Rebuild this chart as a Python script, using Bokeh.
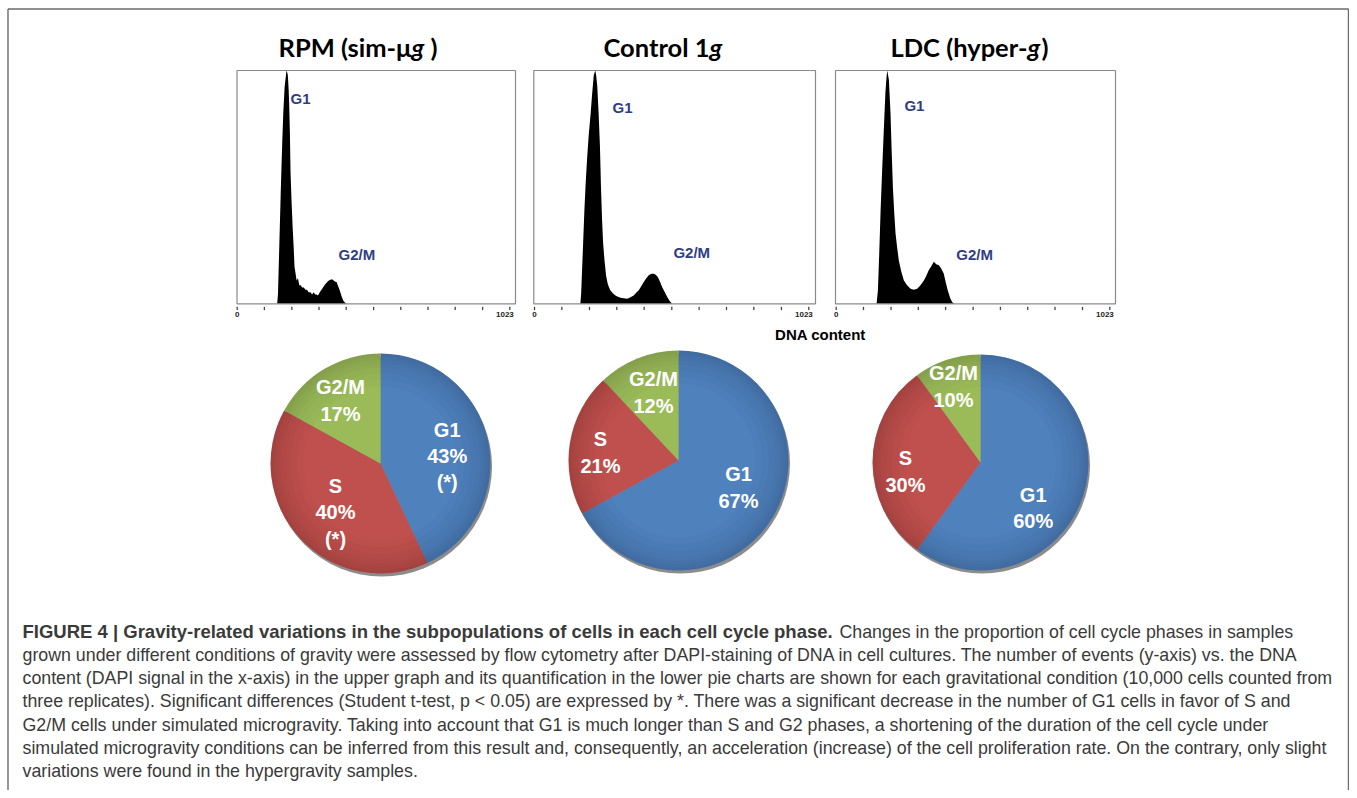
import math
from bokeh.plotting import figure
from bokeh.models import Range1d
from bokeh.core.properties import value
from bokeh.embed import file_html
from bokeh.resources import INLINE

# ---------------- data ----------------
phases = ["G1", "S", "G2/M"]
rpm_pct = [43, 40, 17]
ctl_pct = [67, 21, 12]
ldc_pct = [60, 30, 10]
rpm_sig = [True, True, False]
ctl_sig = [False, False, False]
ldc_sig = [False, False, False]

# DNA content histograms: channel (0-1023) vs events (% of G1 peak)
rpm_ch = [150, 153, 158, 163, 166, 169, 173, 178, 182, 185, 188, 190, 193, 195, 198, 200, 204, 208,
          212, 215, 219, 223, 228, 233, 238, 244, 250, 256, 262, 268, 275, 281, 287, 293, 298, 303,
          308, 313, 319, 325, 331, 338, 344, 350, 356, 362, 368, 373, 379, 385, 391, 398, 404, 410]
rpm_cnt = [0, 4, 25, 46, 58, 69, 82, 93, 97, 100, 99, 98, 92, 86, 72, 57, 44, 33,
           24, 16, 13, 10, 11, 8, 8, 7, 7, 6, 6, 5, 5, 4, 5, 4, 4, 3.6,
           4.5, 5.5, 6.4, 7.5, 8.5, 9.3, 10, 10.3, 10.5, 10, 9.5, 9.3, 7.5, 5.7, 3.5, 1.4, 0.6, 0]

ctl_ch = [171, 174, 180, 186, 191, 196, 202, 209, 215, 221, 224, 227, 230, 234, 239, 244, 248, 252,
          256, 261, 267, 273, 278, 283, 292, 302, 311, 321, 333, 346, 358, 370, 380, 389, 398, 408,
          417, 426, 436, 445, 452, 460, 468, 476, 486, 495, 504, 513]
ctl_cnt = [0, 4.3, 22, 40, 52, 62, 72, 81, 90, 98, 99, 100, 98, 93.5, 82, 68, 50, 36,
           26, 18.7, 12, 8.6, 7, 5.8, 4.5, 3.6, 3, 2.6, 2.4, 2.2, 2.8, 3.6, 4.8, 5.8, 7.5, 9.4,
           11, 12.2, 12.9, 12.9, 12.5, 11.5, 9.5, 7.2, 5, 2.9, 1.2, 0]

ldc_ch = [151, 156, 161, 166, 171, 176, 180, 184, 188, 191, 194, 197, 200, 203, 207, 212, 217, 222,
          228, 234, 243, 253, 265, 278, 290, 303, 315, 328, 337, 346, 355, 365, 374, 384, 393, 402,
          410, 417, 426, 434, 442]
ldc_cnt = [0, 5.8, 22, 40, 55, 69, 80, 90.6, 97, 100, 98, 96, 89, 82, 67, 50, 39, 30,
           24, 18.7, 14, 10, 8, 6.5, 6, 6.5, 8, 10, 12, 14.4, 16, 18, 17, 16.5, 15, 13,
           9, 5.8, 2.5, 0.7, 0]

tick_channels = [0, 102, 205, 307, 409, 512, 614, 716, 818, 921, 1023]
tick_label_channels = [0, 1023]
tick_label_texts = ["0", "1023"]
axis_label = "DNA content"

caption_bold = "FIGURE 4 | Gravity-related variations in the subpopulations of cells in each cell cycle phase."
caption_lines = [
    "Changes in the proportion of cell cycle phases in samples",
    "grown under different conditions of gravity were assessed by flow cytometry after DAPI-staining of DNA in cell cultures. The number of events (y-axis) vs. the DNA",
    "content (DAPI signal in the x-axis) in the upper graph and its quantification in the lower pie charts are shown for each gravitational condition (10,000 cells counted from",
    "three replicates). Significant differences (Student t-test, p < 0.05) are expressed by *. There was a significant decrease in the number of G1 cells in favor of S and",
    "G2/M cells under simulated microgravity. Taking into account that G1 is much longer than S and G2 phases, a shortening of the duration of the cell cycle under",
    "simulated microgravity conditions can be inferred from this result and, consequently, an acceleration (increase) of the cell proliferation rate. On the contrary, only slight",
    "variations were found in the hypergravity samples.",
]

# title pieces: (text, italic)
titles = [
    [("RPM (sim-μ", False), ("g", True), (")", False)],
    [("Control 1", False), ("g", True)],
    [("LDC (hyper-", False), ("g", True), (")", False)],
]

# ---------------- layout (page pixels) ----------------
W, H = 1349, 790
def py(y):
    return H - y

panels = [
    dict(L=236.5, R=515, T=70, B=303.3, x0=236.7, x1=509.3,
         g1=(200, 88), g2=(380, 21), title_x=[411, 411, 430]),
    dict(L=533.3, R=815, T=70, B=303.3, x0=534.0, x1=808.3,
         g1=(291, 84), g2=(518, 22), title_x=[709, 709]),
    dict(L=835.0, R=1115, T=70, B=303.3, x0=835.7, x1=1109.3,
         g1=(255, 85), g2=(449, 21), title_x=[1027, 1027, 1041]),
]
pies = [
    dict(cx=380, cy=463, r=110, offs=[(66.7, -7.4), (-45, 48.7), (-40, -63)]),
    dict(cx=678, cy=460, r=110, offs=[(60, 27), (-78, -8), (-25, -68)]),
    dict(cx=980, cy=462, r=108, offs=[(52.7, 45.5), (-75, 9), (-27, -76)]),
]

p = figure(width=W, height=H, x_range=Range1d(0, W), y_range=Range1d(0, H),
           output_backend="svg", toolbar_location=None,
           x_axis_location=None, y_axis_location=None, min_border=0)
p.outline_line_color = None
p.xgrid.visible = False
p.ygrid.visible = False
p.background_fill_color = "white"
p.border_fill_color = "white"

# outer figure border (left, top, right)
p.multi_line(xs=[[7.5, 7.5], [7.5, 1348], [1348, 1348]],
             ys=[[py(800), py(8.5)], [py(8.5), py(8.5)], [py(8.5), py(800)]],
             line_color="#6a6a6a", line_width=1.4)

hists = [(rpm_ch, rpm_cnt), (ctl_ch, ctl_cnt), (ldc_ch, ldc_cnt)]
for pl, (ch, cnt), tparts in zip(panels, hists, titles):
    sub = p.subplot(x_source=Range1d(0, 1023), y_source=Range1d(0, 100),
                    x_target=Range1d(pl["x0"], pl["x1"]),
                    y_target=Range1d(py(pl["B"]), py(pl["T"])))
    sub.varea(x=ch, y1=[0] * len(ch), y2=cnt, fill_color="black")
    p.quad(left=pl["L"], right=pl["R"], top=py(pl["T"]), bottom=py(pl["B"]),
           fill_color=None, line_color="#8a8a8a", line_width=1.2)
    sub.segment(x0=tick_channels, y0=[-1.3] * len(tick_channels),
                x1=tick_channels, y1=[-2.7] * len(tick_channels),
                line_color="#444444", line_width=1.3)
    sub.text(x=[tick_label_channels[0]], y=[-4.4], text=[tick_label_texts[0]],
             text_font=value("Liberation Sans"), text_font_style="bold", text_font_size="8px",
             text_align="center", text_baseline="middle", text_color="#222222")
    sub.text(x=[tick_label_channels[1]], y=[-4.4], text=[tick_label_texts[1]],
             text_font=value("Liberation Sans"), text_font_style="bold", text_font_size="8px",
             text_align="right", text_baseline="middle", text_color="#222222", x_offset=4)
    sub.text(x=[pl["g1"][0], pl["g2"][0]], y=[pl["g1"][1], pl["g2"][1]], text=["G1", "G2/M"],
             text_font=value("Liberation Sans"), text_font_style="bold", text_font_size="15px",
             text_color="#2F3E84", text_align="left", text_baseline="middle")
    # titles
    for i, ((txt, ital), tx) in enumerate(zip(tparts, pl["title_x"])):
        p.text(x=[tx], y=[py(46)], text=[txt], text_font=value("Lato"),
               text_font_style="bold italic" if ital else "bold", text_font_size="25.5px",
               text_align="right" if i == 0 else "left", text_baseline="alphabetic",
               text_color="black")

p.text(x=[820], y=[py(334)], text=[axis_label], text_font=value("Liberation Sans"),
       text_font_style="bold", text_font_size="15px", text_align="center",
       text_baseline="middle", text_color="black")

# pies
colors = ["#4F81BD", "#C0504D", "#9BBB59"]
shade_steps = [0.70, 0.76, 0.82, 0.87, 0.91, 0.94, 0.97]
for pc, pct, sig in zip(pies, [rpm_pct, ctl_pct, ldc_pct], [rpm_sig, ctl_sig, ldc_sig]):
    cx, cy, r = pc["cx"], py(pc["cy"]), pc["r"]
    p.circle(x=[cx + 1.5], y=[cy - 3], radius=r, radius_units="screen",
             fill_color="#3f3f3f", fill_alpha=0.6, line_color=None)
    total = float(sum(pct))
    cum = 0.0
    starts, ends = [], []
    for v in pct:
        starts.append(math.pi / 2 - 2 * math.pi * cum / total)
        cum += v
        ends.append(math.pi / 2 - 2 * math.pi * cum / total)
    p.wedge(x=[cx] * 3, y=[cy] * 3, radius=r, radius_units="screen",
            start_angle=starts, end_angle=ends, direction="clock",
            fill_color=colors, line_color=None)
    # soft darkening towards the rim (3-D look)
    p.annulus(x=[cx] * len(shade_steps), y=[cy] * len(shade_steps),
              inner_radius=[r * s for s in shade_steps], outer_radius=r,
              inner_radius_units="screen", outer_radius_units="screen",
              fill_color="black", fill_alpha=0.018, line_color=None)
    labels = []
    for ph, v, s in zip(phases, pct, sig):
        labels.append(f"{ph}\n{v}%" + ("\n(*)" if s else ""))
    p.text(x=[cx + o[0] for o in pc["offs"]], y=[cy - o[1] for o in pc["offs"]], text=labels,
           text_font=value("Liberation Sans"), text_font_style="bold", text_font_size="20px",
           text_color="white", text_align="center", text_baseline="middle",
           text_line_height=1.2)

# caption
line_y = [631, 654, 677, 700, 724, 747, 770]
cap_font = value("Liberation Sans")
cap_col = "#3a3a3a"
p.text(x=[22], y=[py(line_y[0])], text=[caption_bold], text_font=cap_font,
       text_font_style="bold", text_font_size="18.5px", text_color=cap_col,
       text_baseline="alphabetic", text_align="left")
p.text(x=[839], y=[py(line_y[0])], text=[caption_lines[0]], text_font=cap_font,
       text_font_size="17.8px", text_color=cap_col, text_baseline="alphabetic", text_align="left")
p.text(x=[22] * 6, y=[py(v) for v in line_y[1:]], text=caption_lines[1:], text_font=cap_font,
       text_font_size="17.8px", text_color=cap_col, text_baseline="alphabetic", text_align="left")

open("out.html", "w").write(file_html(p, INLINE))
